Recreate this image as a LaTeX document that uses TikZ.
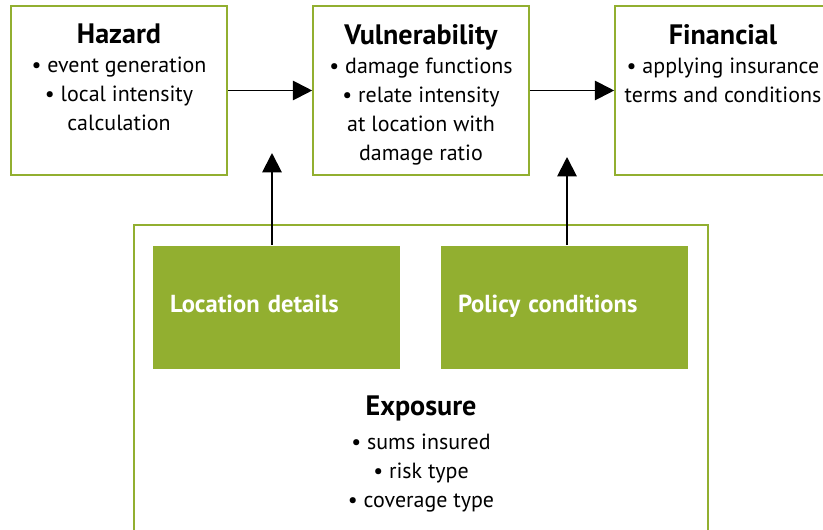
\documentclass[tikz,border=0pt]{standalone}
\usepackage{fontspec}
\setmainfont{PT Sans}
\usetikzlibrary{arrows.meta,positioning}
\definecolor{riskgreen}{RGB}{146,175,48}
\newcommand{\ttlfont}{\fontsize{16}{16.5}\selectfont\bfseries}

\begin{document}
\begin{tikzpicture}[
  font=\fontsize{12.5}{16.5}\selectfont,
  >={Triangle[length=11pt,width=11pt]},
  line width=1.1pt,
  stage/.style={draw=riskgreen,line width=0.9pt,minimum width=4.32cm,minimum height=3.38cm,inner sep=0pt},
  block/.style={fill=riskgreen,minimum width=4.94cm,minimum height=2.46cm,inner ysep=0pt,inner xsep=0.34cm,
    text width=4.26cm,align=left,text height=1.6ex,text depth=0.5ex,text=white,font=\fontsize{14}{16.5}\selectfont\bfseries},
  txt/.style={align=center,anchor=north,inner sep=0pt},
]
\useasboundingbox (0,0) rectangle (16.46,10.58);

% top row
\node[stage] (hazard) at (2.38,8.77) {};
\node[stage] (vuln) at (8.42,8.77) {};
\node[stage] (fin) at (14.46,8.77) {};

\node[txt] (hazardtxt) at ([yshift=-0.36cm]hazard.north) {{\ttlfont Hazard}\\
  \textbullet\ event generation\\ \textbullet\ local intensity\\ calculation};
\node[txt] (vulntxt) at ([yshift=-0.36cm]vuln.north) {{\ttlfont Vulnerability}\\
  \textbullet\ damage functions\\ \textbullet\ relate intensity\\ at location with\\ damage ratio};
\node[txt] (fintxt) at ([yshift=-0.36cm]fin.north) {{\ttlfont Financial}\\
  \textbullet\ applying insurance\\ terms and conditions};

\draw[->] (hazard) -- (vuln);
\draw[->] (vuln) -- (fin);

% exposure
\node[draw=riskgreen,line width=0.9pt,minimum width=11.48cm,minimum height=6.18cm,inner sep=0pt] (expo) at (8.42,2.99) {};
\node[block] (location) at (5.53,4.43) {Location details};
\node[block] (policy) at (11.29,4.43) {Policy conditions};
\node[txt] (expotxt) at (8.42,2.68) {{\ttlfont Exposure}\\[0.1cm]
  \textbullet\ sums insured\\ \textbullet\ risk type\\ \textbullet\ coverage type};

\coordinate (loctip) at (5.44,7.52);
\coordinate (poltip) at (11.34,7.44);
\draw[->] (location.north -| loctip) -- (loctip);
\draw[->] (policy.north -| poltip) -- (poltip);

\end{tikzpicture}
\end{document}
